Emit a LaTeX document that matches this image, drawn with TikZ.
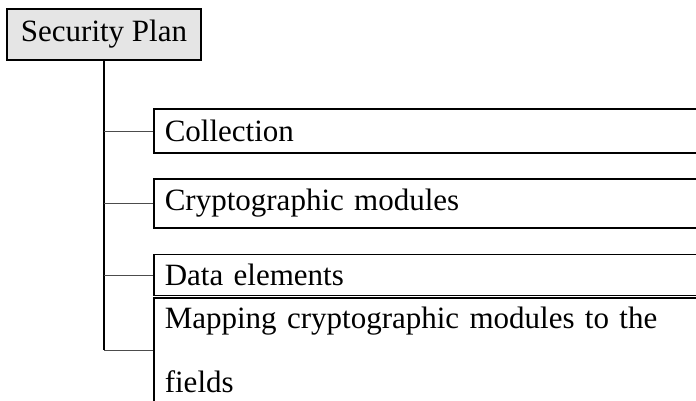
\documentclass[tikz,border=0pt]{standalone}
\usepackage{fontspec}
\setmainfont{Liberation Serif}

\tikzset{
  planbox/.style={draw, line width=1.6pt, fill=black!10, minimum width=194pt,
    minimum height=51pt, inner sep=0pt, font=\fontsize{31}{37}\selectfont},
  leafbox/.style={draw, line width=1.6pt, anchor=west, inner xsep=11pt,
    inner ysep=0pt, text width=560pt, align=left,
    font=\fontsize{31}{37}\selectfont},
  branch/.style={line width=0.8pt, black!70},
}

\begin{document}
\begin{tikzpicture}[x=1pt, y=-1pt]
    \clip (0,0) rectangle (696,400);

    \node[planbox] (plan) at (104, 34.5) {Security Plan};

    \node[leafbox, minimum height=44pt] (collection) at (153, 131) {Collection};
    \node[leafbox, minimum height=49pt] (modules) at (153, 203.5) {Cryptographic modules};
    \node[leafbox, minimum height=41pt] (elements) at (153, 275) {Data elements};
    \node[leafbox, minimum height=104pt, font=\fontsize{31}{64}\selectfont]
      (mapping) at (153, 350) {Mapping cryptographic modules to the\\fields};

    \draw[line width=1.2pt] 
      (plan.south) -- (plan.south |- mapping.west)
    ;

    \draw[branch] 
      (plan.south |- collection.west) -- (collection.west)
      (plan.south |- modules.west) -- (modules.west)
      (plan.south |- elements.west) -- (elements.west)
      (plan.south |- mapping.west) -- (mapping.west)
    ;
\end{tikzpicture}
\end{document}
